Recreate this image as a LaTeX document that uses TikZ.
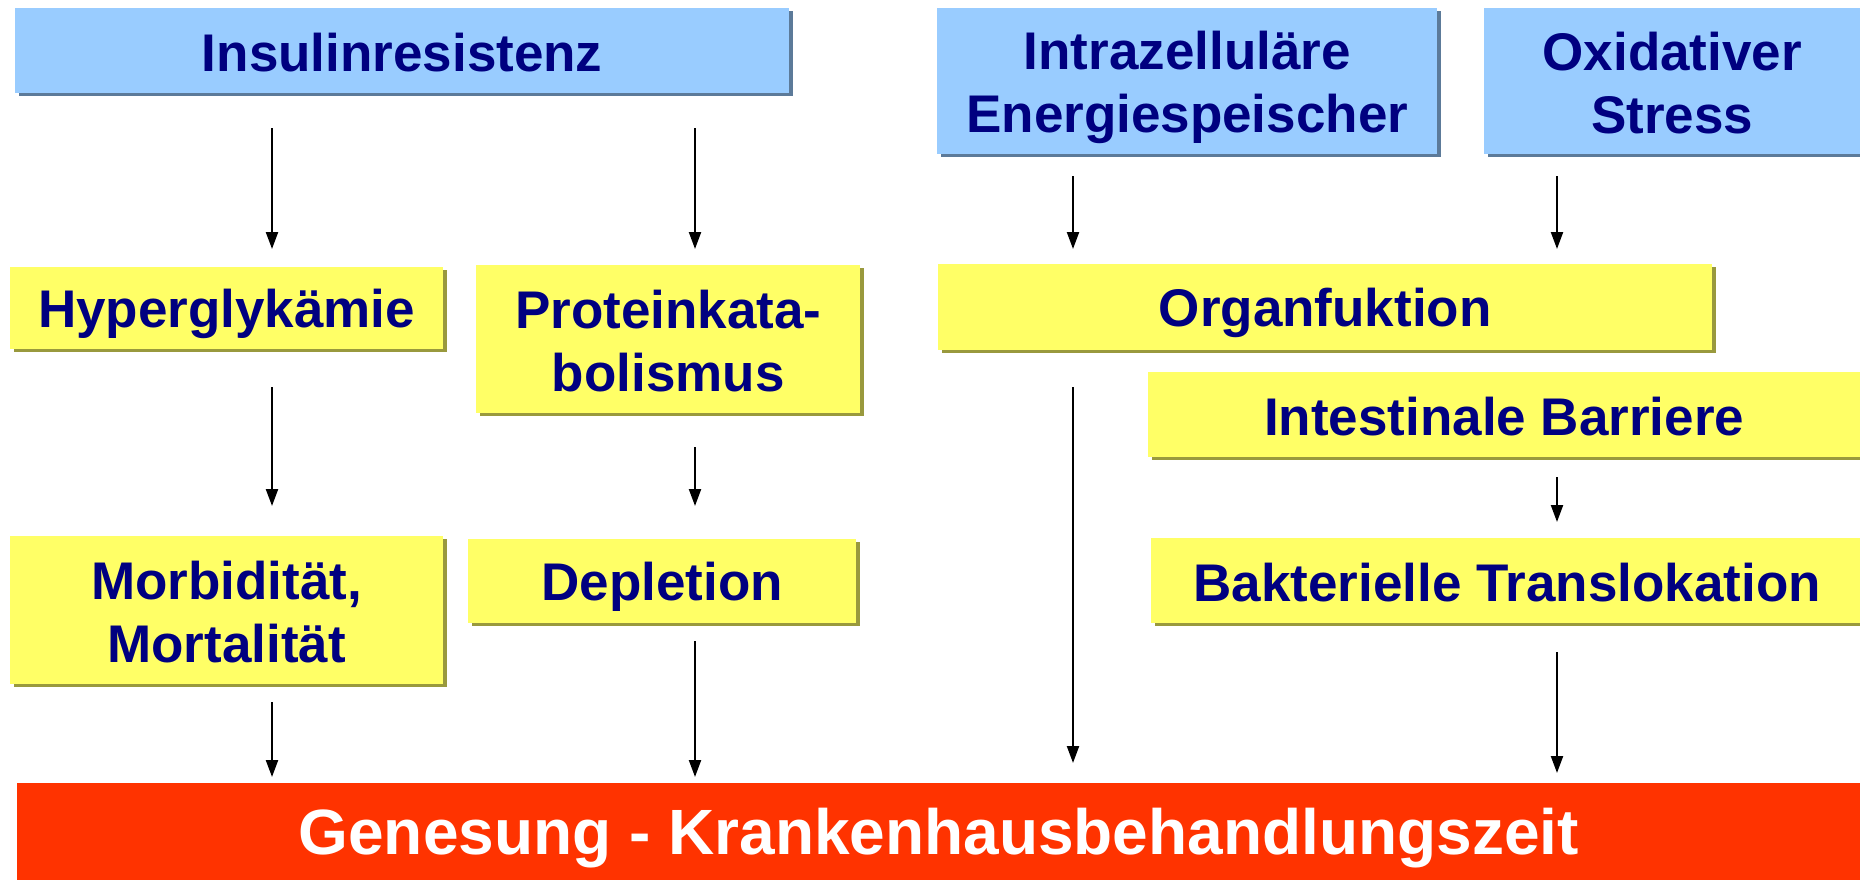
\documentclass[tikz,border=0pt]{standalone}
\usepackage{fontspec}
\setmainfont{Liberation Sans}
\usetikzlibrary{arrows.meta, shadows}
\definecolor{boxblue}{HTML}{99CCFF}
\definecolor{blueshade}{HTML}{5C7A99}
\definecolor{boxyellow}{HTML}{FFFF66}
\definecolor{yellowshade}{HTML}{99993D}
\definecolor{barred}{HTML}{FF3300}
\definecolor{navy}{HTML}{000080}
\newcommand{\topstrut}{\rule{0pt}{50pt}} % fixed height of a first line
\newcommand{\botstrut}{\rule[-9pt]{0pt}{9pt}} % fixed depth of a last line
\tikzset{
x=1pt, y=-1pt, % one unit is one pixel, y runs downwards
every node/.style={font=\bfseries\fontsize{53}{63}\selectfont, text=navy, align=center, inner sep=0pt, anchor=north west,
  execute at begin node=\topstrut, execute at end node=\botstrut}, % text of all boxes
}
\begin{document}
\begin{tikzpicture}[cause/.style = {fill=boxblue, drop shadow={shadow xshift=4pt, shadow yshift=-3pt, fill=blueshade, opacity=1}},
    effect/.style = {fill=boxyellow, drop shadow={shadow xshift=4pt, shadow yshift=-3pt, fill=yellowshade, opacity=1}},
    arr/.style = {-{Triangle[length=17pt, width=12pt]}, line width=2.2pt}]
    \useasboundingbox (0,0) rectangle (1860,880);
    \node[cause, minimum width=774pt, minimum height=85pt] (insulin) at (15,8) {Insulinresistenz};
    \node[cause, minimum width=500pt, minimum height=146pt] (intra) at (937,8) {\topstrut Intrazelluläre\\Energiespeischer};
    \node[cause, minimum width=376pt, minimum height=146pt] (oxid) at (1484,8) {\topstrut Oxidativer\\Stress\botstrut};
    \node[effect, minimum width=433pt, minimum height=82pt] (hyper) at (10,267) {Hyperglykämie};
    \node[effect, minimum width=384pt, minimum height=148pt] (protein) at (476,265) {\topstrut Proteinkata-\\bolismus\botstrut};
    \node[effect, minimum width=774pt, minimum height=86pt] (organ) at (938,264) {Organfuktion};
    \node[effect, minimum width=712pt, minimum height=85pt] (intest) at (1148,372) {Intestinale Barriere};
    \node[effect, minimum width=433pt, minimum height=148pt] (morb) at (10,536) {\topstrut Morbidität,\\Mortalität\botstrut};
    \node[effect, minimum width=388pt, minimum height=84pt] (depl) at (468,539) {Depletion};
    \node[effect, minimum width=712pt, minimum height=85pt] (bakt) at (1151,538) {Bakterielle Translokation};
    \node[fill=barred, text=white, font=\bfseries\fontsize{64}{70}\selectfont, minimum width=1843pt, minimum height=107pt] (genesung) at (17,783) {Genesung - Krankenhausbehandlungszeit};
    % columns of the arrows
    \coordinate (c1) at (272,0);
    \coordinate (c2) at (695,0);
    \coordinate (c3) at (1073,0);
    \coordinate (c4) at (1557,0);
    \draw [arr, shorten <=35pt, shorten >=18pt] (insulin.south -| c1) -- (hyper.north -| c1);
    \draw [arr, shorten <=35pt, shorten >=16pt] (insulin.south -| c2) -- (protein.north -| c2);
    \draw [arr, shorten <=22pt, shorten >=15pt] (intra.south -| c3) -- (organ.north -| c3);
    \draw [arr, shorten <=22pt, shorten >=15pt] (oxid.south -| c4) -- (organ.north -| c4);
    \draw [arr, shorten <=38pt, shorten >=30pt] (hyper.south -| c1) -- (morb.north -| c1);
    \draw [arr, shorten <=34pt, shorten >=33pt] (protein.south -| c2) -- (depl.north -| c2);
    \draw [arr, shorten <=20pt, shorten >=16pt] (intest.south -| c4) -- (bakt.north -| c4);
    \draw [arr, shorten <=18pt, shorten >=6pt] (morb.south -| c1) -- (genesung.north -| c1);
    \draw [arr, shorten <=18pt, shorten >=6pt] (depl.south -| c2) -- (genesung.north -| c2);
    \draw [arr, shorten <=37pt, shorten >=20pt] (organ.south -| c3) -- (genesung.north -| c3);
    \draw [arr, shorten <=29pt, shorten >=10pt] (bakt.south -| c4) -- (genesung.north -| c4);
\end{tikzpicture}
\end{document}
